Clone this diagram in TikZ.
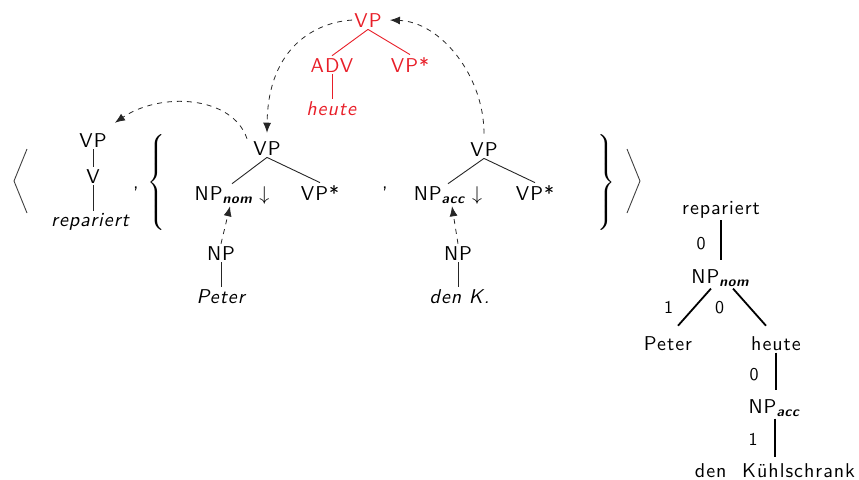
\documentclass[tikz,border=0pt]{standalone}
\usepackage{amsmath}
\usepackage{fontspec}
\setsansfont{lmsans10}[Extension=.otf, UprightFont=*-regular, ItalicFont=*-oblique, BoldFont=*-bold, BoldItalicFont=*-boldoblique, LetterSpace=5]
\usepackage{tikz}
\usetikzlibrary{arrows.meta}
\renewcommand{\familydefault}{\sfdefault}
\definecolor{adjred}{RGB}{232,30,40}
\newcommand{\cas}[1]{\textbf{\textit{#1}}}

\begin{document}
\begin{tikzpicture}[x=0.5pt,y=0.5pt,
  tnode/.style={anchor=base, inner sep=1pt},
  anode/.style={tnode, text=adjred},
  branch/.style={draw=black!85, line width=0.45pt},
  abranch/.style={draw=adjred, line width=0.45pt},
  subst/.style={draw=black!85, dash pattern=on 2.5pt off 2.5pt, -{Latex[length=5pt,width=4pt]}},
  dbranch/.style={line width=0.9pt},
  dlab/.style={font=\small, inner sep=0pt},
  tuple/.style={draw=black!75, line width=0.45pt}]
\useasboundingbox (0,0) rectangle (859,-479);

\draw[tuple] (27,-149) -- (14,-181) -- (27,-213);
\draw[tuple] (627,-149) -- (640,-181) -- (627,-213);
\node[inner sep=0pt] (lbrace) at (158,-182) {$\left\{\rule[-22.5pt]{0pt}{50pt}\right.$};
\node[inner sep=0pt] (rbrace) at (605,-182) {$\left.\rule[-22.5pt]{0pt}{50pt}\right\}$};
\node[tnode] (ca) at (136,-188) {,};
\node[tnode] (cb) at (385,-188) {,};

% repariert
\node[tnode] (vpa) at (93,-147) {VP};
\node[tnode] (va) at (93,-183) {V};
\node[tnode] (rep) at (91,-226) {\textit{repariert}};
\draw[branch] (vpa.south) -- (va.north);
\draw[branch] (va.south) -- (va.south |- rep.north);

% Peter
\node[tnode] (vpb) at (267,-155) {VP};
\node[tnode] (npnom) at (232,-200) {NP$_{\cas{nom}}\downarrow$};
\node[tnode] (vpsb) at (320,-200) {VP*};
\node[tnode] (npb) at (221,-260) {NP};
\node[tnode] (peter) at (222,-303) {\textit{Peter}};
\draw[branch] (vpb.south) -- (npnom.north);
\draw[branch] (vpb.south) -- (vpsb.north);
\draw[branch] (npb.south) -- (npb.south |- peter.north);
\draw[subst] (npb.north) -- ([xshift=-1pt]npnom.south);

% den K.
\node[tnode] (vpc) at (484,-156) {VP};
\node[tnode] (npacc) at (448,-200) {NP$_{\cas{acc}}\downarrow$};
\node[tnode] (vpsc) at (535,-200) {VP*};
\node[tnode] (npc) at (458,-260) {NP};
\node[tnode] (denk) at (460,-303) {\textit{den K.}};
\draw[branch] (vpc.south) -- (npacc.north);
\draw[branch] (vpc.south) -- (vpsc.north);
\draw[branch] (npc.south) -- (npc.south |- denk.north);
\draw[subst] (npc.north) -- ([xshift=2pt]npacc.south);

% heute
\node[anode] (vpr) at (368,-27) {VP};
\node[anode] (adv) at (332,-72) {ADV};
\node[anode] (vpsr) at (410,-72) {VP*};
\node[anode] (heute) at (332,-115) {\textit{heute}};
\draw[abranch] (vpr.south) -- (adv.north);
\draw[abranch] (vpr.south) -- (vpsr.north);
\draw[abranch] (adv.south) -- (adv.south |- heute.north);

\draw[subst] ([xshift=-2pt]vpb.north west) .. controls (232,-95) and (160,-92) .. ([shift={(3pt,4pt)}]vpa.north east);
\draw[subst] (vpr.west) .. controls (318,-22) and (268,-45) .. ([yshift=3pt]vpb.north);
\draw[subst] ([yshift=3pt]vpc.north) .. controls (484,-75) and (440,-22) .. ([xshift=3pt]vpr.east);

% derivation tree
\node[tnode] (drep) at (721,-214) {repariert};
\node[tnode] (dnom) at (721,-283) {NP$_{\cas{nom}}$};
\node[tnode] (dpeter) at (668,-350) {Peter};
\node[tnode] (dheute) at (776,-350) {heute};
\node[tnode] (dacc) at (775,-413) {NP$_{\cas{acc}}$};
\node[tnode] (dkuehl) at (775,-477) {den\hspace{4pt} Kühlschrank};
\draw[dbranch, shorten >=3.5pt] (drep.south) -- (dnom.north) node[dlab, midway, xshift=-10pt] {0};
\draw[dbranch] ([xshift=-5pt]dnom.south) -- ([shift={(5pt,4pt)}]dpeter.north) node[dlab, midway, xshift=-13pt] {1};
\draw[dbranch] ([xshift=6pt]dnom.south) -- ([shift={(-5pt,4pt)}]dheute.north) node[dlab, midway, xshift=-15pt] {0};
\draw[dbranch, shorten >=3.5pt] (dheute.south) -- (dheute.south |- dacc.north) node[dlab, midway, xshift=-11pt] {0};
\draw[dbranch, shorten >=2pt] (dacc.south) -- (dacc.south |- dkuehl.north) node[dlab, midway, xshift=-11pt] {1};
\end{tikzpicture}
\end{document}
